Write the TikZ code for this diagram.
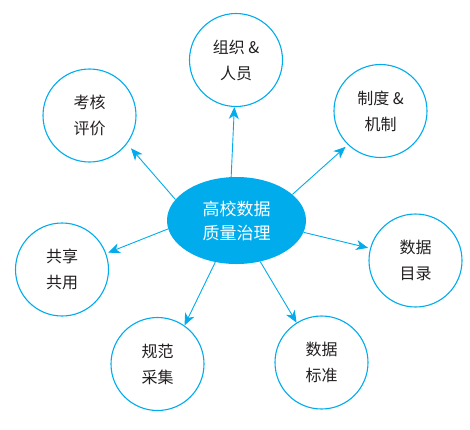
\documentclass[tikz,border=0pt]{standalone}
\usepackage{fontspec}
\newfontfamily\cjk{Noto Sans CJK SC}
\usetikzlibrary{arrows.meta,shapes.geometric}
\definecolor{cy}{RGB}{0,172,236}
\definecolor{tx}{RGB}{35,31,32}
\begin{document}
\begin{tikzpicture}[x=1pt,y=-1pt,
  leaf/.style={circle,draw=cy,line width=1.1pt,minimum size=93pt,inner sep=0pt,align=center,font=\cjk\fontsize{16}{26}\selectfont,text=tx},
  hub/.style={ellipse,fill=cy,minimum width=139pt,minimum height=87pt,inner sep=0pt,align=center,font=\cjk\fontsize{17}{24}\selectfont,text=white},
  arr/.style={draw=cy,line width=0.9pt,-{Stealth[length=12pt,width=10pt,inset=3.5pt]}}]
\useasboundingbox (0,0) rectangle (470,429);
\node[hub] (h) at (236.5,220.5) {高校数据\\质量治理};
\node[leaf] (zz) at (236,60) {组织 \&\\人员};
\node[leaf] (zd) at (380.5,111) {制度 \&\\机制};
\node[leaf] (ml) at (415.5,260.5) {数据\\目录};
\node[leaf] (bz) at (321.5,362.5) {数据\\标准};
\node[leaf] (gf) at (157.5,364) {规范\\采集};
\node[leaf] (gx) at (62,269.5) {共享\\共用};
\node[leaf] (kh) at (89.5,115.5) {考核\\评价};
\draw[arr] (h.97) -- (zz.268);
\draw[arr,shorten >=3pt] (h.25) -- (zd.226);
\draw[arr,shorten >=2pt] (h.-10) -- (ml.165);
\draw[arr] (h.-60) -- (bz.122);
\draw[arr] (h.-117) -- (gf.55);
\draw[arr,shorten >=2pt] (h.187) -- (gx.20);
\draw[arr,shorten >=6pt] (h.161) -- (kh.-37);
\end{tikzpicture}
\end{document}
